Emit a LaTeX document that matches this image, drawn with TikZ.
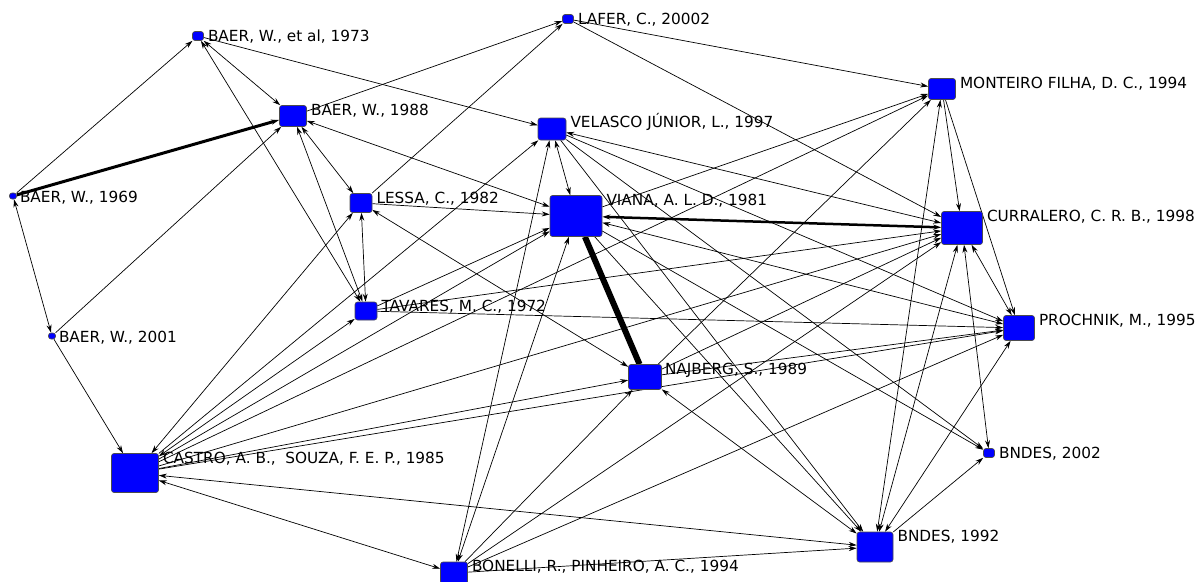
\documentclass[tikz,border=0pt]{standalone}
\usepackage{fontspec}
\newfontfamily\netfont{DejaVu Sans}
\usetikzlibrary{arrows.meta,positioning,backgrounds}

\tikzset{
  paper/.style={draw=black!70, line width=0.6pt, fill=blue, rounded corners=2.5pt, inner sep=0pt},
  box/.style 2 args={minimum width=#1, minimum height=#2},
  name tag/.style={inner sep=0pt, font=\netfont\fontsize{15.3}{18}\selectfont},
  link/.style={draw=black, line width=0.7pt},
  >={Stealth[length=8pt,width=5pt]},
}

\begin{document}
\begin{tikzpicture}[x=1pt,y=-1pt]
        \useasboundingbox (0,0) rectangle (1204,581);
        % papers
        \node[paper, box={11pt}{9pt}] (b73) at (198,36) {};
        \node[paper, box={11pt}{9pt}] (laf) at (568,19) {};
        \node[paper, box={27pt}{21pt}] (b88) at (293,116) {};
        \node[paper, box={28pt}{22pt}] (vel) at (552,129) {};
        \node[paper, box={27pt}{21pt}] (mon) at (942,89) {};
        \node[paper, box={7pt}{6pt}] (b69) at (13,196) {};
        \node[paper, box={22pt}{19pt}] (les) at (361,203) {};
        \node[paper, box={52pt}{41pt}] (via) at (576,216) {};
        \node[paper, box={41pt}{33pt}] (cur) at (962,228) {};
        \node[paper, box={22pt}{18pt}] (tav) at (366,311) {};
        \node[paper, box={7pt}{6pt}] (b01) at (52,336) {};
        \node[paper, box={31pt}{25pt}] (pro) at (1019,328) {};
        \node[paper, box={33pt}{25pt}] (naj) at (645,377) {};
        \node[paper, box={47pt}{39pt}] (cas) at (135,473) {};
        \node[paper, box={11pt}{9pt}] (bn02) at (989,453) {};
        \node[paper, box={36pt}{30pt}] (bn92) at (875,547) {};
        \node[paper, box={27pt}{22pt}] (bon) at (454,573) {};
        % names
        \node[name tag, right=4pt of b73.north east, anchor=base west, yshift=-10pt] (b73-t) {BAER, W., et al, 1973};
        \node[name tag, right=4pt of laf.north east, anchor=base west, yshift=-10pt] (laf-t) {LAFER, C., 20002};
        \node[name tag, right=4pt of b88.north east, anchor=base west, yshift=-10pt] (b88-t) {BAER, W., 1988};
        \node[name tag, right=4pt of vel.north east, anchor=base west, yshift=-10pt] (vel-t) {VELASCO JÚNIOR, L., 1997};
        \node[name tag, right=4pt of mon.north east, anchor=base west, yshift=-10pt] (mon-t) {MONTEIRO FILHA, D. C., 1994};
        \node[name tag, right=3pt of b69.north east, anchor=base west, yshift=-10pt] (b69-t) {BAER, W., 1969};
        \node[name tag, right=4pt of les.north east, anchor=base west, yshift=-10pt] (les-t) {LESSA, C., 1982};
        \node[name tag, right=4pt of via.north east, anchor=base west, yshift=-10pt] (via-t) {VIANA, A. L. D., 1981};
        \node[name tag, right=4pt of cur.north east, anchor=base west, yshift=-10pt] (cur-t) {CURRALERO, C. R. B., 1998};
        \node[name tag, right=4pt of tav.north east, anchor=base west, yshift=-10pt] (tav-t) {TAVARES, M. C., 1972};
        \node[name tag, right=3pt of b01.north east, anchor=base west, yshift=-10pt] (b01-t) {BAER, W., 2001};
        \node[name tag, right=4pt of pro.north east, anchor=base west, yshift=-10pt] (pro-t) {PROCHNIK, M., 1995};
        \node[name tag, right=3pt of naj.north east, anchor=base west, yshift=-10pt] (naj-t) {NAJBERG, S., 1989};
        \node[name tag, right=4pt of cas.north east, anchor=base west, yshift=-10pt] (cas-t) {CASTRO, A. B.,~ SOUZA, F. E. P., 1985};
        \node[name tag, right=4pt of bn02.north east, anchor=base west, yshift=-10pt] (bn02-t) {BNDES, 2002};
        \node[name tag, right=4pt of bn92.north east, anchor=base west, yshift=-10pt] (bn92-t) {BNDES, 1992};
        \node[name tag, right=4pt of bon.north east, anchor=base west, yshift=-10pt] (bon-t) {BONELLI, R., PINHEIRO, A. C., 1994};
        % citations
        \begin{pgfonlayer}{background}
          \fill[white] (0,0) rectangle (1204,581);
          \begin{scope}[link]
          \path
            (b69) edge[->] (b73)
            (b69) edge[->, line width=3pt] (b88)
            (b69) edge[<->] (b01)
            (b73) edge[<->] (b88)
            (b73) edge[->] (vel)
            (tav) edge[<->] (b73)
            (b88) edge[->] (laf)
            (b88) edge[<->] (les)
            (b88) edge[<->] (tav)
            (via) edge[<->] (b88)
            (b01) edge[->] (b88)
            (b01) edge[->] (cas)
            (les) edge[->] (laf)
            (laf) edge[->] (mon)
            (laf) edge[->] (cur)
            (les) edge[<->] (tav)
            (les) edge[->] (via)
            (les) edge[<->] (naj)
            (cas) edge[<->] (les)
            (cas) edge[->] (vel)
            (cas) edge[<->] (tav)
            (cas) edge[->] (via)
            (cas) edge[->] (naj)
            (cas) edge[->] (pro)
            (cas) edge[->] (cur)
            (cas) edge[->] (mon)
            (cas) edge[<->] (bn92)
            (cas) edge[<->] (bon)
            (tav) edge[->] (via)
            (tav) edge[->] (pro)
            (tav) edge[->] (cur)
            (via) edge[line width=6pt] (naj)
            (via) edge[<->, line width=2.5pt] (cur)
            (via) edge[<->] (vel)
            (via) edge[->] (mon)
            (via) edge[<->] (pro)
            (via) edge[->] (bn92)
            (via) edge[->] (bn02)
            (vel) edge[<->] (bon)
            (via) edge[<->] (bon)
            (cur) edge[<->] (vel)
            (vel) edge[->] (bn92)
            (vel) edge[->] (bn02)
            (vel) edge[->] (pro)
            (naj) edge[->] (mon)
            (naj) edge[->] (pro)
            (naj) edge[->] (cur)
            (naj) edge[<->] (bn92)
            (bon) edge[->] (naj)
            (bon) edge[->] (cur)
            (bon) edge[->] (pro)
            (bon) edge[->] (bn92)
            (mon) edge[->] (cur)
            (mon) edge[->] (pro)
            (bn92) edge[<->] (mon)
            (bn92) edge[<->] (cur)
            (bn92) edge[<->] (pro)
            (bn92) edge[->] (bn02)
            (cur) edge[<->] (bn02)
            (cur) edge[<->] (pro);
          \end{scope}
        \end{pgfonlayer}
\end{tikzpicture}
\end{document}
